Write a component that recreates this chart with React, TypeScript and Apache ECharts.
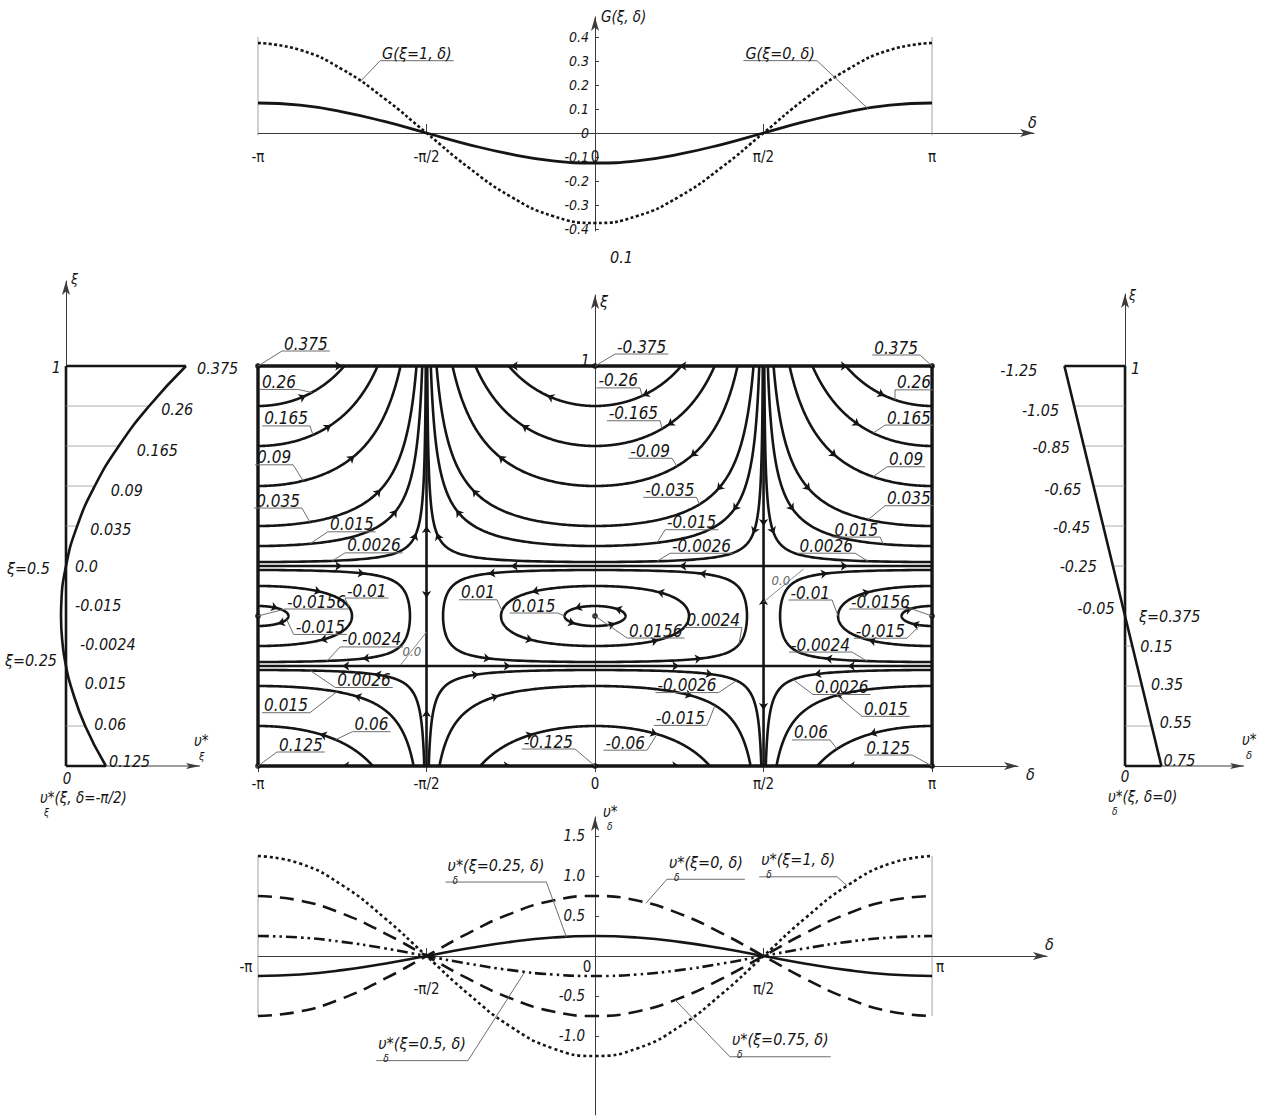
import React, { useEffect, useRef } from "react";
import * as echarts from "echarts";

const INK = "#151515";
const AXIS = "#3c3c3c";
const LEAD = "#6e6e6e";
const FAM = '"Liberation Sans Narrow", "Arial Narrow", "DejaVu Sans Condensed", "Liberation Sans", sans-serif';

// ---------- δ axes (δ in units of π) ----------
const DELTA_TICKS = [-1, -0.5, 0, 0.5, 1];
const DELTA_LABELS = ["-π", "-π/2", "0", "π/2", "π"];
const DELTA_S = [-1, -0.875, -0.75, -0.625, -0.5, -0.375, -0.25, -0.125, 0, 0.125, 0.25, 0.375, 0.5, 0.625, 0.75, 0.875, 1];

// ---------- top chart: G(ξ, δ) ----------
const G_XI1 = [0.375, 0.346, 0.265, 0.144, 0, -0.144, -0.265, -0.346, -0.375, -0.346, -0.265, -0.144, 0, 0.144, 0.265, 0.346, 0.375];
const G_XI0 = [0.125, 0.116, 0.088, 0.048, 0, -0.048, -0.088, -0.116, -0.125, -0.116, -0.088, -0.048, 0, 0.048, 0.088, 0.116, 0.125];
const G_TICKS = [-0.4, -0.3, -0.2, -0.1, 0, 0.1, 0.2, 0.3, 0.4];

// ---------- bottom chart: υδ*(ξ, δ) ----------
const V_XI0 = [-0.75, -0.693, -0.53, -0.287, 0, 0.287, 0.53, 0.693, 0.75, 0.693, 0.53, 0.287, 0, -0.287, -0.53, -0.693, -0.75];
const V_XI025 = [-0.25, -0.231, -0.177, -0.096, 0, 0.096, 0.177, 0.231, 0.25, 0.231, 0.177, 0.096, 0, -0.096, -0.177, -0.231, -0.25];
const V_XI05 = [0.25, 0.231, 0.177, 0.096, 0, -0.096, -0.177, -0.231, -0.25, -0.231, -0.177, -0.096, 0, 0.096, 0.177, 0.231, 0.25];
const V_XI075 = [0.75, 0.693, 0.53, 0.287, 0, -0.287, -0.53, -0.693, -0.75, -0.693, -0.53, -0.287, 0, 0.287, 0.53, 0.693, 0.75];
const V_XI1 = [1.25, 1.155, 0.884, 0.478, 0, -0.478, -0.884, -1.155, -1.25, -1.155, -0.884, -0.478, 0, 0.478, 0.884, 1.155, 1.25];
const V_TICKS = [-1, -0.5, 0.5, 1, 1.5];

// ---------- left profile: υξ*(ξ, δ=-π/2) ----------
const XI_LEFT = [1, 0.9, 0.8, 0.7, 0.6, 0.5, 0.4, 0.375, 0.3, 0.25, 0.2, 0.1, 0];
const UXI_LEFT = [0.375, 0.26, 0.165, 0.09, 0.035, 0, -0.015, -0.0156, -0.01, 0, 0.015, 0.06, 0.125];
const LEFT_LABELS = ["0.375", "0.26", "0.165", "0.09", "0.035", "0.0", "-0.015", "-0.0024", "0.015", "0.06", "0.125"];
const LEFT_LABEL_XI = [1, 0.9, 0.8, 0.7, 0.6, 0.5, 0.4, 0.3, 0.2, 0.1, 0];
const LEFT_GRID_XI = [0.9, 0.8, 0.7, 0.6, 0.1];

// ---------- right profile: υδ*(ξ, δ=0) ----------
const XI_RIGHT = [1, 0.9, 0.8, 0.7, 0.6, 0.5, 0.4, 0.3, 0.2, 0.1, 0];
const UD_RIGHT = [-1.25, -1.05, -0.85, -0.65, -0.45, -0.25, -0.05, 0.15, 0.35, 0.55, 0.75];

// ---------- main chart: streamlines G(ξ, δ) = const ----------
const SEPARATRIX_XI = [0.25, 0.5];
const UPPER_PI = [0.26, 0.165, 0.09, 0.035, 0.015, 0.0026];
const UPPER_ZERO = [-0.26, -0.165, -0.09, -0.035, -0.015, -0.0026];
const MID_ZERO = [0.015, 0.01, 0.0024];
const MID_PI = [-0.015, -0.01, -0.0024];
const LOWER_PI = [0.06, 0.015, 0.0026];
const LOWER_ZERO = [-0.06, -0.015, -0.0026];
const CRIT_POINTS = [[-1, 1], [0, 1], [1, 1], [-1, 0], [0, 0], [1, 0], [-1, 0.375], [0, 0.375], [1, 0.375]];

// ---------- annotation layout (pixel offsets) ----------
// [text, anchorKind, p1, p2, side, dx, dy]; P: point (δ/π, ξ); U/L/M±: level, δ/π
const MAIN_LABELS: any[] = [
  ["0.375", "P", -1, 1, "l", 24, -15],
  ["0.26", "U", 0.26, -0.84, "r", -14, -3],
  ["0.165", "U", 0.165, -0.837, "r", -3, -9],
  ["0.09", "U", 0.09, -0.866, "r", -10, -16],
  ["0.035", "U", 0.035, -0.846, "r", -8, -14],
  ["0.015", "U", 0.015, -0.846, "l", 18, -12],
  ["0.0026", "U", 0.0026, -0.78, "l", 13, -8],
  ["-0.01", "M+", -0.01, -0.73, "l", -4, -9],
  ["-0.0156", "P", -1, 0.375, "l", 27, -7],
  ["-0.015", "M-", -0.015, -0.915, "l", 7, 15],
  ["-0.0024", "M-", -0.0024, -0.795, "l", 13, -14],
  ["0.01", "M+", 0.01, -0.276, "r", -5, -11],
  ["0.015", "P", -0.0903, 0.375, "r", -7, -3],
  ["0.0156", "P", 0, 0.375, "l", 32, 22],
  ["0.0026", "L", 0.0026, -0.845, "l", 25, 17],
  ["0.015", "L", 0.015, -0.766, "r", -27, 21],
  ["0.06", "L", 0.06, -0.77, "l", 17, -8],
  ["0.125", "P", -1, 0, "l", 19, -14],
  ["-0.125", "P", 0, 0, "r", -20, -17],
  ["-0.375", "P", 0, 1, "l", 20, -12],
  ["-0.26", "U", -0.26, 0.1395, "r", -2, -8],
  ["-0.165", "U", -0.165, 0.199, "r", -2, -8],
  ["-0.09", "U", -0.09, 0.243, "r", -5, -8],
  ["-0.035", "U", -0.035, 0.31, "r", -3, -7],
  ["-0.015", "U", -0.015, 0.184, "l", 8, -13],
  ["-0.0026", "U", -0.0026, 0.184, "l", 13, -8],
  ["0.375", "P", 1, 1, "r", -12, -11],
  ["0.26", "U", 0.26, 0.89, "l", 0, -10],
  ["0.165", "U", 0.165, 0.825, "l", 12, -8],
  ["0.09", "U", 0.09, 0.825, "l", 14, -10],
  ["0.035", "U", 0.035, 0.81, "l", 17, -14],
  ["0.015", "U", 0.015, 0.855, "r", -3, -7],
  ["0.0026", "U", 0.0026, 0.81, "r", -13, -8],
  ["0.0024", "M-", 0.0024, 0.427, "r", 3, -17],
  ["-0.01", "P", 0.7212, 0.375, "r", -6, -16],
  ["-0.0156", "P", 1, 0.375, "r", -20, -7],
  ["-0.015", "M-", -0.015, 0.9644, "r", -13, 13],
  ["-0.0024", "M-", -0.0024, 0.807, "r", -15, -9],
  ["-0.0026", "L", -0.0026, 0.42, "r", -18, 12],
  ["-0.015", "L", -0.015, 0.356, "r", -8, 20],
  ["-0.06", "L", -0.06, 0.184, "r", -10, 16],
  ["0.0026", "L", 0.0026, 0.5875, "l", 20, 15],
  ["0.015", "L", 0.015, 0.718, "l", 25, 21],
  ["0.06", "L", 0.06, 0.718, "r", -7, -9],
  ["0.125", "P", 1, 0, "r", -20, -11],
];
// "0.0" separatrix notes: anchor δ/π, ξ, text dx, text-bottom dy, leader dx, dy
const ZERO_NOTES = [
  [-0.5, 0.335, -24, 26, -26, 33],
  [0.5, 0.41, 8, -15, 40, -33],
];
const TOP_LABELS: any[] = [
  ["G(ξ=1, δ)", "G1", -0.697, "l", 20, -21],
  ["G(ξ=0, δ)", "G0", 0.81, "r", -51, -48],
];
const BOTTOM_LABELS: any[] = [
  ["υ*(ξ=0.25, δ)", "V025", -0.085, "r", -20, -55],
  ["υ*(ξ=0, δ)", "V0", 0.151, "l", 21, -24],
  ["υ*(ξ=1, δ)", "V1", 0.748, "r", -10, -9],
  ["υ*(ξ=0.5, δ)", "V05", -0.208, "r", -57, 89],
  ["υ*(ξ=0.75, δ)", "V075", 0.237, "l", 55, 57],
];
const LEFT_DX = [11, 12, 18, 16, 13, 9, 9, 14, 14, 9, 3];
const LEFT_DY = [2, 3, 4, 4, 3, 0, -1, -2, -3, -2, -5];
const RIGHT_DX = [-27, -15, -14, -12, -13, -16, -8, 8, 9, 8, 2];
const RIGHT_DY = [4, 4, 1, 3, 1, 0, 2, 0, -2, -4, -6];

// ---------- streamline geometry from the profile ----------
type Pt = [number, number];
const R0 = SEPARATRIX_XI[0];
const R1 = SEPARATRIX_XI[1];
const XC = (R0 + R1) / 2;
const GMIN = -(((R1 - R0) / 2) ** 2);
const gOf = (xi: number) => (xi - R0) * (xi - R1);
const gPrime = (xi: number) => 2 * xi - R0 - R1;
const NSEG = 180;
const SX = 337;
const SY = 400;

function contourBranches(c: number, reg: string): Pt[][] {
  const xs: number[] = [];
  const r = Math.sqrt(Math.abs(c) - GMIN);
  const u0 = Math.sqrt(Math.max(0, -GMIN - Math.abs(c)));
  for (let i = 0; i <= NSEG; i++) {
    const t = i / NSEG;
    if (reg === "U") {
      const a = XC + r;
      xs.push(a + (1 - a) * (1 - Math.cos((t * Math.PI) / 2)));
    } else if (reg === "L") {
      const a = XC - r;
      xs.push(a * Math.cos((t * Math.PI) / 2));
    } else {
      xs.push(XC + u0 * Math.sin(-Math.PI / 2 + t * Math.PI));
    }
  }
  return [1, -1].map((s) =>
    xs.map((xi) => {
      const g = gOf(xi);
      const cv = Math.max(-1, Math.min(1, -c / g));
      return [(s * Math.acos(cv)) / Math.PI, xi] as Pt;
    })
  );
}

function flowSign(p: Pt, q: Pt) {
  const d = (p[0] + q[0]) / 2;
  const xi = (p[1] + q[1]) / 2;
  const ud = -gPrime(xi) * Math.cos(Math.PI * d);
  const ux = -gOf(xi) * Math.sin(Math.PI * d);
  return ud * (q[0] - p[0]) * Math.PI + ux * (q[1] - p[1]);
}

function arrowAt(pts: Pt[], frac: number): Pt[] {
  const L = [0];
  for (let i = 1; i < pts.length; i++) {
    L.push(L[i - 1] + Math.hypot((pts[i][0] - pts[i - 1][0]) * SX, (pts[i][1] - pts[i - 1][1]) * SY));
  }
  const target = L[L.length - 1] * frac;
  let i = 1;
  while (i < L.length - 1 && L[i] < target) i++;
  let p = pts[i - 1];
  let q = pts[i];
  if (flowSign(p, q) < 0) {
    const tmp = p;
    p = q;
    q = tmp;
  }
  return [p, q];
}

function fieldArrow(d: number, xi: number, horizontal: boolean): Pt[] {
  const ud = -gPrime(xi) * Math.cos(Math.PI * d);
  const ux = -gOf(xi) * Math.sin(Math.PI * d);
  const e = 0.004;
  if (horizontal) return ud >= 0 ? [[d - e, xi], [d, xi]] : [[d + e, xi], [d, xi]];
  return ux >= 0 ? [[d, xi - e], [d, xi]] : [[d, xi + e], [d, xi]];
}

function anchorOf(kind: string, p1: number, p2: number): Pt {
  if (kind === "P") return [p1, p2];
  const k = -p1 / Math.cos(Math.PI * p2);
  const r = Math.sqrt(Math.max(0, k - GMIN));
  const xi = kind === "U" || kind === "M+" ? XC + r : XC - r;
  return [p2, xi];
}

const SERIES_BY_KEY: Record<string, number[]> = {
  G1: G_XI1, G0: G_XI0, V0: V_XI0, V025: V_XI025, V05: V_XI05, V075: V_XI075, V1: V_XI1,
};
function interp(arr: number[], d: number) {
  let i = 0;
  while (i < DELTA_S.length - 2 && DELTA_S[i + 1] < d) i++;
  const t = (d - DELTA_S[i]) / (DELTA_S[i + 1] - DELTA_S[i]);
  return arr[i] + t * (arr[i + 1] - arr[i]);
}

const zip = (xs: number[], ys: number[]) => xs.map((x, i) => [x, ys[i]]);

let measureCtx: CanvasRenderingContext2D | null = null;
function tw(text: string, size: number, italic = true) {
  if (!measureCtx) measureCtx = document.createElement("canvas").getContext("2d");
  measureCtx!.font = `${italic ? "italic " : ""}${size}px ${FAM}`;
  return measureCtx!.measureText(text).width;
}

function arrowAxisLine(onZero = true) {
  return {
    show: true,
    onZero,
    symbol: ["none", "arrow"],
    symbolSize: [6, 14],
    lineStyle: { color: AXIS, width: 1 },
  };
}
const dLab = (v: number) => {
  const i = DELTA_TICKS.findIndex((t) => Math.abs(t - v) < 1e-9);
  return i >= 0 ? DELTA_LABELS[i] : "";
};

// axis ranges
const TOP_X = [-1, 1.3027];
const TOP_Y = [-0.4083, 0.4833];
const MAIN_X = [-1, 1.255];
const MAIN_Y = [0, 1.1775];
const LEFT_X = [-0.025, 0.41875];
const LEFT_Y = [0, 1.2125];
const RIGHT_X = [-1.3, 2.4536];
const RIGHT_Y = [0, 1.18];
const BOT_X = [-1, 1.341];
const BOT_Y = [-1.9875, 1.7375];

function buildOption() {
  const gridBoxes = [
    { left: 258, top: 17, width: 776, height: 214 },
    { left: 258, top: 295, width: 760, height: 471 },
    { left: 58, top: 281, width: 142, height: 485 },
    { left: 1062, top: 294, width: 182, height: 472 },
    { left: 258, top: 817, width: 789, height: 298 },
  ];
  const grids = gridBoxes.map((g) => ({ ...g, containLabel: false, outerBoundsMode: "none", show: false }));
  // offsets that bring an axis (line + labels) onto the other axis' zero
  const xZeroOffset = (gi: number, yr: number[]) => {
    const g = gridBoxes[gi];
    const zeroY = g.top + (g.height * yr[1]) / (yr[1] - yr[0]);
    return -(g.top + g.height - zeroY);
  };
  const yZeroOffset = (gi: number, xr: number[]) => {
    const g = gridBoxes[gi];
    const zeroX = g.left + (g.width * -xr[0]) / (xr[1] - xr[0]);
    return -(zeroX - g.left);
  };

  const tickFont = { fontFamily: FAM, fontSize: 15, color: INK };
  const numFont = { fontFamily: FAM, fontStyle: "italic", color: INK };

  const xAxis: any[] = [
    {
      gridIndex: 0, type: "value", min: TOP_X[0], max: TOP_X[1], splitLine: { show: false },
      offset: xZeroOffset(0, TOP_Y),
      axisLine: arrowAxisLine(false),
      axisTick: { show: true, customValues: [-0.5, 0.5], inside: true, length: 9, lineStyle: { color: AXIS } },
      axisLabel: { show: true, customValues: DELTA_TICKS, formatter: dLab, margin: 16, ...tickFont },
    },
    {
      gridIndex: 1, type: "value", min: MAIN_X[0], max: MAIN_X[1], splitLine: { show: false },
      axisLine: arrowAxisLine(),
      axisTick: { show: true, customValues: DELTA_TICKS, length: 6, lineStyle: { color: AXIS } },
      axisLabel: { show: true, customValues: DELTA_TICKS, formatter: dLab, margin: 10, ...tickFont },
    },
    {
      gridIndex: 2, type: "value", min: LEFT_X[0], max: LEFT_X[1], splitLine: { show: false },
      axisLine: { show: false }, axisTick: { show: false }, axisLabel: { show: false },
    },
    {
      gridIndex: 3, type: "value", min: RIGHT_X[0], max: RIGHT_X[1], splitLine: { show: false },
      axisLine: { show: false }, axisTick: { show: false }, axisLabel: { show: false },
    },
    {
      gridIndex: 4, type: "value", min: BOT_X[0], max: BOT_X[1], splitLine: { show: false },
      offset: xZeroOffset(4, BOT_Y),
      axisLine: arrowAxisLine(false),
      axisTick: { show: true, customValues: [-0.5, 0.5], inside: true, length: 8, lineStyle: { color: AXIS } },
      axisLabel: {
        show: true, customValues: DELTA_TICKS, margin: 3, ...tickFont,
        formatter: (v: number) => {
          const i = DELTA_TICKS.findIndex((t) => Math.abs(t - v) < 1e-9);
          const key = ["a", "b", "c", "b", "e"][i];
          return `{${key}|${DELTA_LABELS[i]}}`;
        },
        rich: {
          a: { padding: [0, 24, 0, 0], ...tickFont },
          b: { padding: [22, 0, 0, 0], ...tickFont },
          c: { padding: [0, 16, 0, 0], ...tickFont },
          e: { padding: [0, 0, 0, 16], ...tickFont },
        },
      },
    },
  ];

  const yAxis: any[] = [
    {
      gridIndex: 0, type: "value", min: TOP_Y[0], max: TOP_Y[1], splitLine: { show: false },
      offset: yZeroOffset(0, TOP_X),
      axisLine: arrowAxisLine(false),
      axisTick: { show: true, customValues: G_TICKS, inside: true, length: 4, lineStyle: { color: AXIS } },
      axisLabel: {
        show: true, customValues: G_TICKS, margin: 6, fontSize: 14, ...numFont,
        formatter: (v: number) => (Math.abs(v) < 1e-9 ? "0" : v.toFixed(1)),
      },
    },
    {
      gridIndex: 1, type: "value", min: MAIN_Y[0], max: MAIN_Y[1], splitLine: { show: false },
      axisLine: arrowAxisLine(), axisTick: { show: false }, axisLabel: { show: false },
    },
    {
      gridIndex: 2, type: "value", min: LEFT_Y[0], max: LEFT_Y[1], splitLine: { show: false },
      axisLine: arrowAxisLine(), axisTick: { show: false }, axisLabel: { show: false },
    },
    {
      gridIndex: 3, type: "value", min: RIGHT_Y[0], max: RIGHT_Y[1], splitLine: { show: false },
      axisLine: arrowAxisLine(), axisTick: { show: false }, axisLabel: { show: false },
    },
    {
      gridIndex: 4, type: "value", min: BOT_Y[0], max: BOT_Y[1], splitLine: { show: false },
      offset: yZeroOffset(4, BOT_X),
      axisLine: arrowAxisLine(false),
      axisTick: { show: true, customValues: V_TICKS, inside: true, length: 4, lineStyle: { color: AXIS } },
      axisLabel: {
        show: true, customValues: V_TICKS, margin: 10, fontSize: 15, ...numFont,
        formatter: (v: number) => v.toFixed(1),
      },
    },
  ];

  const sLine = (g: number, data: any[], ls: any, extra: any = {}) => ({
    type: "line", xAxisIndex: g, yAxisIndex: g, data, symbol: "none", showSymbol: false,
    silent: true, clip: false, lineStyle: { color: INK, width: 2.6, ...ls }, ...extra,
  });
  const sLines = (g: number, polys: any[], ls: any, extra: any = {}) => ({
    type: "lines", coordinateSystem: "cartesian2d", xAxisIndex: g, yAxisIndex: g, polyline: true,
    silent: true, clip: false, data: polys.map((c) => ({ coords: c })),
    lineStyle: { color: INK, width: 2.4, opacity: 1, ...ls }, ...extra,
  });

  // main streamlines
  const contours: Pt[][] = [];
  const arrows: Pt[][] = [];
  const addSet = (levels: number[], reg: string, fracs: number[]) => {
    levels.forEach((c) => {
      contourBranches(c, reg).forEach((b) => {
        contours.push(b);
        fracs.forEach((f) => arrows.push(arrowAt(b, f)));
      });
    });
  };
  addSet(UPPER_PI, "U", [0.5]);
  addSet(UPPER_ZERO, "U", [0.5]);
  addSet(LOWER_PI, "L", [0.5]);
  addSet(LOWER_ZERO, "L", [0.5]);
  addSet(MID_ZERO, "M", [0.3, 0.7]);
  addSet(MID_PI, "M", [0.3, 0.7]);
  [1, R1, R0, 0].forEach((xi) => [-0.75, -0.25, 0.25, 0.75].forEach((d) => arrows.push(fieldArrow(d, xi, true))));
  [-0.5, 0.5].forEach((d) => [0.6, 0.42, 0.14].forEach((xi) => arrows.push(fieldArrow(d, xi, false))));

  const frame = [[[-1, 0], [1, 0], [1, 1], [-1, 1], [-1, 0]]];
  const separatrices = [
    [[-1, R0], [1, R0]],
    [[-1, R1], [1, R1]],
    [[-0.5, 0], [-0.5, 1]],
    [[0.5, 0], [0.5, 1]],
  ];

  const leftVal = (xi: number) => UXI_LEFT[XI_LEFT.indexOf(xi)];
  const nL = XI_LEFT.length - 1;
  const nR = XI_RIGHT.length - 1;

  const series: any[] = [
    // top
    sLine(0, zip(DELTA_S, G_XI1), { width: 2.6, type: [3, 2.4] }, { smooth: true }),
    sLine(0, zip(DELTA_S, G_XI0), { width: 2.8 }, { smooth: true }),
    sLines(0, [[[-1, -0.01], [-1, 0.4]], [[1, -0.01], [1, 0.4]]], { width: 0.8, color: "#8c8c8c" }),
    // main
    sLines(1, contours, { width: 2.6 }),
    sLines(1, separatrices, { width: 2.6 }),
    sLines(1, frame, { width: 3.4 }),
    {
      type: "lines", coordinateSystem: "cartesian2d", xAxisIndex: 1, yAxisIndex: 1, silent: true,
      data: arrows.map((c) => ({ coords: c })), symbol: ["none", "arrow"], symbolSize: 7,
      lineStyle: { color: INK, width: 1, opacity: 1 },
    },
    {
      type: "scatter", xAxisIndex: 1, yAxisIndex: 1, data: CRIT_POINTS, symbolSize: 6, silent: true,
      itemStyle: { color: INK },
    },
    // left profile
    sLines(2, [[[0, 0], [LEFT_X[1], 0]]], { width: 1, color: AXIS }),
    sLine(2, XI_LEFT.map((xi, i) => [UXI_LEFT[i], xi]), { width: 2.6 }, { smooth: true }),
    sLines(2, [
      [[0, XI_LEFT[0]], [UXI_LEFT[0], XI_LEFT[0]]],
      [[0, XI_LEFT[nL]], [UXI_LEFT[nL], XI_LEFT[nL]]],
      [[0, XI_LEFT[nL]], [0, XI_LEFT[0]]],
    ], { width: 2.6 }),
    sLines(2, LEFT_GRID_XI.map((xi) => [[0, xi], [leftVal(xi), xi]]), { width: 0.8, color: "#9a9a9a" }),
    // right profile
    sLines(3, [[[0, 0], [RIGHT_X[1], 0]]], { width: 1, color: AXIS }),
    sLine(3, XI_RIGHT.map((xi, i) => [UD_RIGHT[i], xi]), { width: 2.6 }),
    sLines(3, [
      [[0, XI_RIGHT[0]], [UD_RIGHT[0], XI_RIGHT[0]]],
      [[0, XI_RIGHT[nR]], [UD_RIGHT[nR], XI_RIGHT[nR]]],
      [[0, XI_RIGHT[nR]], [0, XI_RIGHT[0]]],
    ], { width: 2.6 }),
    sLines(3, XI_RIGHT.slice(1, nR).map((xi, i) => [[0, xi], [UD_RIGHT[i + 1], xi]]), { width: 0.8, color: "#9a9a9a" }),
    // bottom
    sLine(4, zip(DELTA_S, V_XI1), { width: 2.6, type: [3, 3] }, { smooth: true }),
    sLine(4, zip(DELTA_S, V_XI0), { width: 2.6, type: [14, 8] }, { smooth: true }),
    sLine(4, zip(DELTA_S, V_XI075), { width: 2.6, type: [14, 8] }, { smooth: true }),
    sLine(4, zip(DELTA_S, V_XI025), { width: 2.6 }, { smooth: true }),
    sLine(4, zip(DELTA_S, V_XI05), { width: 2.6, type: [11, 4, 2.5, 4, 2.5, 4] }, { smooth: true }),
    sLines(4, [[[-1, -0.75], [-1, 1.25]], [[1, -0.75], [1, 1.25]]], { width: 0.8, color: "#8c8c8c" }),
  ];

  return { animation: false, backgroundColor: "#fff", grid: grids, xAxis, yAxis, series };
}

function buildGraphics(chart: any) {
  const px = (g: number, x: number, y: number) => chart.convertToPixel({ gridIndex: g }, [x, y]) as number[];
  const els: any[] = [];
  const T = (x: number, y: number, text: string, o: any = {}) =>
    els.push({
      type: "text", x, y, silent: true, z: 20,
      style: {
        text, fill: o.color ?? INK, fontSize: o.size ?? 16, fontFamily: FAM,
        fontStyle: o.upright ? "normal" : "italic",
        align: o.align ?? "left", verticalAlign: o.va ?? "middle",
        textAlign: o.align ?? "left", textVerticalAlign: o.va ?? "middle",
      },
    });
  const Ln = (x1: number, y1: number, x2: number, y2: number, color = LEAD, w = 1) =>
    els.push({ type: "line", silent: true, z: 19, shape: { x1, y1, x2, y2 }, style: { stroke: color, lineWidth: w } });
  const head = (x: number, y: number) =>
    els.push({
      type: "polygon", silent: true, z: 19,
      shape: { points: [[x, y], [x - 14, y - 3], [x - 11, y], [x - 14, y + 3]] },
      style: { fill: AXIS },
    });

  const underlined = (ax: number, ay: number, text: string, side: string, dx: number, dy: number, size: number, sub?: string) => {
    const w = tw(text, size) + 4;
    const ex = ax + dx;
    const ey = ay + dy;
    const x0 = side === "l" ? ex : ex - w;
    Ln(x0, ey, x0 + w, ey);
    Ln(ax, ay, ex, ey);
    if (sub) {
      T(x0 + 2, ey - 9, text, { va: "bottom", size });
      T(x0 + 7, ey + 3, sub, { va: "bottom", size: 10 });
    } else {
      T(x0 + 2, ey + 1, text, { va: "bottom", size });
    }
  };

  // ---- main chart labels
  MAIN_LABELS.forEach(([text, kind, p1, p2, side, dx, dy]) => {
    const a = anchorOf(kind, p1, p2);
    const [ax, ay] = px(1, a[0], a[1]);
    underlined(ax, ay, text, side, dx, dy, 17);
  });
  ZERO_NOTES.forEach(([d, xi, tx, ty, lx, ly]) => {
    const [ax, ay] = px(1, d, xi);
    Ln(ax, ay, ax + lx, ay + ly, "#8a8a8a");
    T(ax + tx, ay + ty, "0.0", { va: "bottom", size: 13, color: "#666" });
  });
  {
    const [x0, y0] = px(1, 0, MAIN_Y[1]);
    T(x0 + 5, y0 + 6, "ξ", { size: 16 });
    const [x1, y1] = px(1, 0, 1);
    T(x1 - 5, y1 - 6, "1", { align: "right", size: 16 });
    const [x2, y2] = px(1, MAIN_X[1], 0);
    T(x2 + 8, y2 + 8, "δ", { size: 16 });
  }

  // ---- top chart
  TOP_LABELS.forEach(([text, key, d, side, dx, dy]) => {
    const [ax, ay] = px(0, d, interp(SERIES_BY_KEY[key], d));
    underlined(ax, ay, text, side, dx, dy, 16);
  });
  {
    const [x0, y0] = px(0, 0, TOP_Y[1]);
    T(x0 + 6, y0, "G(ξ, δ)", { size: 15 });
    const [x1, y1] = px(0, TOP_X[1], 0);
    T(x1 - 6, y1 - 11, "δ", { size: 16 });
    const [x2, y2] = px(0, 0, TOP_Y[0]);
    T(x2 + 15, y2 + 26, "0.1", { size: 16 });
  }

  // ---- bottom chart
  BOTTOM_LABELS.forEach(([text, key, d, side, dx, dy]) => {
    const [ax, ay] = px(4, d, interp(SERIES_BY_KEY[key], d));
    underlined(ax, ay, text, side, dx, dy, 16, "δ");
  });
  {
    const [x0, y0] = px(4, 0, BOT_Y[1]);
    T(x0 + 8, y0 - 5, "υ*", { size: 15 });
    T(x0 + 12, y0 + 9, "δ", { size: 10 });
    const [x1, y1] = px(4, BOT_X[1], 0);
    T(x1 - 2, y1 - 12, "δ", { size: 16 });
  }

  // ---- left profile
  LEFT_LABEL_XI.forEach((xi, i) => {
    const v = UXI_LEFT[XI_LEFT.indexOf(xi)];
    const [cx, cy] = px(2, Math.max(v, 0), xi);
    T(cx + LEFT_DX[i], cy + LEFT_DY[i], LEFT_LABELS[i], { size: 16 });
  });
  {
    const [x0, y0] = px(2, 0, LEFT_Y[1]);
    T(x0 + 5, y0 - 2, "ξ", { size: 14 });
    const [x1, y1] = px(2, 0, 1);
    T(x1 - 5, y1 + 1, "1", { align: "right", size: 16 });
    const [x2, y2] = px(2, 0, 0);
    T(x2 + 1, y2 + 13, "0", { align: "center", size: 15 });
    T(x2 - 26, y2 + 32, "υ*(ξ, δ=-π/2)", { size: 15 });
    T(x2 - 22, y2 + 46, "ξ", { size: 10 });
    const [x3, y3] = px(2, LEFT_X[1], 0);
    head(x3, y3);
    T(x3 - 6, y3 - 25, "υ*", { size: 15 });
    T(x3 - 1, y3 - 10, "ξ", { size: 11 });
    const [x4, y4] = px(2, 0, 0.5);
    T(x4 - 16, y4 + 2, "ξ=0.5", { align: "right", size: 16 });
    const [x5, y5] = px(2, 0, 0.25);
    T(x5 - 9, y5 - 6, "ξ=0.25", { align: "right", size: 16 });
  }

  // ---- right profile
  XI_RIGHT.forEach((xi, i) => {
    const v = UD_RIGHT[i];
    const [cx, cy] = px(3, v, xi);
    T(cx + RIGHT_DX[i], cy + RIGHT_DY[i], v.toFixed(2), { size: 16, align: v < 0 ? "right" : "left" });
  });
  {
    const [x0, y0] = px(3, 0, RIGHT_Y[1]);
    T(x0 + 4, y0 + 1, "ξ", { size: 14 });
    const [x1, y1] = px(3, 0, 1);
    T(x1 + 6, y1 + 2, "1", { size: 16 });
    const [x2, y2] = px(3, 0, 0);
    T(x2, y2 + 11, "0", { align: "center", size: 15 });
    T(x2 - 17, y2 + 31, "υ*(ξ, δ=0)", { size: 15 });
    T(x2 - 13, y2 + 45, "δ", { size: 10 });
    const [x3, y3] = px(3, RIGHT_X[1], 0);
    head(x3, y3);
    T(x3 - 2, y3 - 26, "υ*", { size: 15 });
    T(x3 + 2, y3 - 11, "δ", { size: 11 });
    const [x4, y4] = px(3, 0, 0.375);
    T(x4 + 14, y4, "ξ=0.375", { size: 16 });
  }
  return els;
}

export default function App() {
  const ref = useRef<HTMLDivElement>(null);
  useEffect(() => {
    const chart = echarts.init(ref.current as HTMLDivElement, null, { renderer: "svg" });
    chart.setOption(buildOption() as any);
    chart.setOption({ graphic: { elements: buildGraphics(chart) } } as any);
    return () => chart.dispose();
  }, []);
  return (
    <div
      ref={ref}
      style={{ position: "fixed", left: 0, top: 0, width: 1267, height: 1117, background: "#fff" }}
    />
  );
}
